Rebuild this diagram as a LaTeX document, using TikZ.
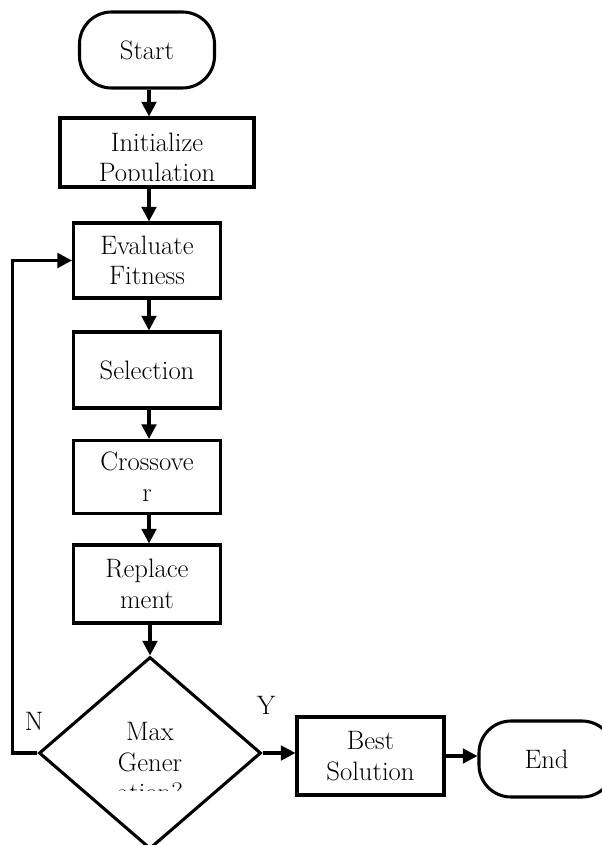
\documentclass[tikz,border=0pt]{standalone}
\usepackage{fontspec}
\usetikzlibrary{shapes.geometric,arrows.meta}
\begin{document}
\begin{tikzpicture}[x=0.75pt,y=-0.75pt,
  every node/.style={font=\fontsize{20}{23}\selectfont, inner sep=0pt},
  pbox/.style={draw, line width=2.3pt, rectangle, align=center},
  term/.style={draw, line width=2.3pt, rectangle, rounded corners=24pt, align=center},
  txt/.style={align=center},
  arr/.style={line width=2.3pt, -{Triangle[length=11pt,width=11pt]}},
  ln/.style={line width=2.3pt}
]
\useasboundingbox (0,0) rectangle (601,845);
\node[term, minimum width=101.25pt, minimum height=57pt] (start) at (147,50) {Start};
\node[pbox, minimum width=145.5pt, minimum height=51.75pt] (init) at (157,152.5) {};
\begin{scope}
  \clip (62,120) rectangle (252,180);
  \node[txt] (inittxt) at (157,160) {Initialize\\Population};
\end{scope}
\node[pbox, minimum width=110.25pt, minimum height=56.25pt] (eval) at (147,260.5) {Evaluate\\Fitness};
\node[pbox, minimum width=110.25pt, minimum height=57pt] (sel) at (147,370) {Selection};
\node[pbox, minimum width=110.25pt, minimum height=54.75pt] (cross) at (147,477) {Crossove\\r};
\node[pbox, minimum width=110.25pt, minimum height=58.5pt] (repl) at (147,584) {Replace\\ment};
\node[draw, line width=2.3pt, diamond, aspect=1.156, minimum width=166.5pt, minimum height=144pt] (dia) at (150,753) {};
\begin{scope}
  \clip (45,690) rectangle (255,790);
  \node[txt] (diatxt) at (150,762) {Max\\Gener\\ation?};
\end{scope}
\node[pbox, minimum width=110.25pt, minimum height=58.5pt] (best) at (370.5,756) {Best\\Solution};
\node[term, minimum width=101.25pt, minimum height=57pt] (end) at (546.5,759) {End};
\node (nlab) at (34,721) {N};
\node (ylab) at (266,705) {Y};
\draw[arr] (start.south -| 149,0) -- (init.north -| 149,0);
\draw[arr] (init.south -| 149,0) -- (eval.north -| 149,0);
\draw[arr] (eval.south -| 149,0) -- (sel.north -| 149,0);
\draw[arr] (sel.south -| 149,0) -- (cross.north -| 149,0);
\draw[arr] (cross.south -| 149,0) -- (repl.north -| 149,0);
\draw[arr] (repl.south -| 150,0) -- (dia.north);
\draw[arr] (dia.west) -- ++(-25,0) |- (eval.west);
\draw[arr] (dia.east) -- (dia.east -| best.west);
\draw[arr] (best.east) -- (best.east -| end.west);
\end{tikzpicture}
\end{document}
